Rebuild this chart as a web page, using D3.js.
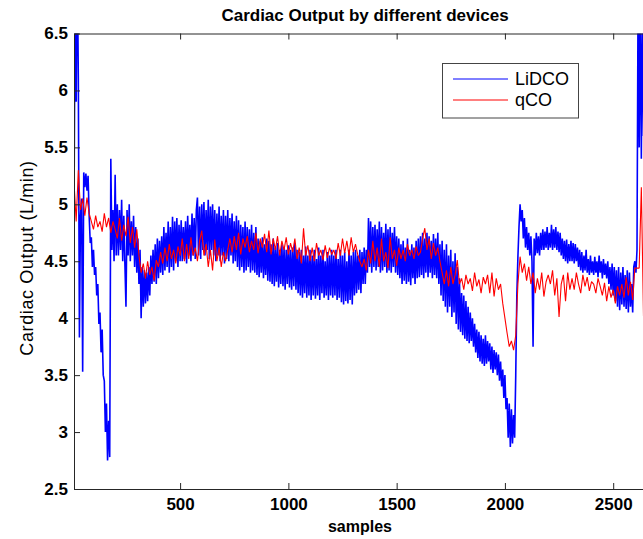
<!DOCTYPE html>
<html><head><meta charset="utf-8">
<script src="https://cdn.jsdelivr.net/npm/d3@7"></script>
<style>
html,body{margin:0;padding:0;background:#fff;overflow:hidden;}
text{font-family:"Liberation Sans",Arial,sans-serif;}
</style></head>
<body><svg id="chart" width="643" height="539"></svg>
<script>
// ---- data ----
const title = "Cardiac Output by different devices";
const xLabel = "samples";
const yLabel = "Cardiac Output (L/min)";
const seriesNames = ["LiDCO", "qCO"];
const xTicks = [500, 1000, 1500, 2000, 2500];
const yTicks = [2.5, 3, 3.5, 4, 4.5, 5, 5.5, 6, 6.5];
const lidcoStart = 10, lidcoStep = 5;
const qcoStart = 10, qcoStep = 10;
// LiDCO values, one every 5 samples from 10 to 2640
const lidco = [
4.9,6.8,5.9,7.2,6.1,3.83,4.9,5.05,3.53,5.28,5.15,5.27,5.12,5.25,4.9,4.66,4.71,4.45,4.6,4.38,
4.45,4.2,4.3,3.95,4.05,3.7,3.9,3.5,3.45,3.0,3.25,2.75,3.1,2.78,5.4,4.6,4.95,4.5,5.26,4.55,
5.0,4.55,4.95,4.6,5.04,4.5,4.9,4.48,4.1,4.95,4.55,5.0,4.5,4.85,4.55,4.9,4.45,4.8,4.4,4.7,
4.3,4.6,4.0,4.45,4.1,4.42,4.13,4.4,4.15,4.45,4.2,4.55,4.3,4.6,4.32,4.65,4.3,4.7,4.35,4.68,
4.4,4.72,4.38,4.8,4.42,4.75,4.45,4.85,4.4,4.8,4.45,4.89,4.42,4.85,4.5,4.88,4.45,4.82,4.5,4.86,
4.5,4.8,4.52,4.85,4.48,4.9,4.55,4.82,4.5,4.92,4.55,4.88,4.52,4.95,5.06,4.55,4.98,4.52,5.0,4.6,
5.02,4.55,4.95,4.6,5.04,4.52,4.98,4.6,5.0,4.55,4.95,4.5,4.92,4.55,4.98,4.5,4.9,4.55,4.95,4.48,
4.9,4.52,4.95,4.5,4.88,4.55,4.92,4.48,4.85,4.5,4.9,4.45,4.86,4.42,4.82,4.45,4.8,4.4,4.85,4.42,
4.8,4.45,4.78,4.4,4.82,4.42,4.75,4.4,4.8,4.38,4.7,4.36,4.68,4.4,4.71,4.35,4.65,4.38,4.7,4.33,
4.68,4.32,4.65,4.3,4.7,4.28,4.62,4.32,4.66,4.27,4.6,4.3,4.65,4.28,4.62,4.25,4.6,4.3,4.64,4.27,
4.6,4.25,4.62,4.28,4.66,4.25,4.6,4.22,4.58,4.2,4.6,4.18,4.55,4.22,4.63,4.18,4.55,4.2,4.6,4.16,
4.55,4.2,4.6,4.17,4.52,4.2,4.62,4.16,4.55,4.22,4.6,4.18,4.5,4.2,4.58,4.16,4.55,4.2,4.6,4.18,
4.55,4.2,4.6,4.16,4.52,4.18,4.6,4.14,4.55,4.12,4.58,4.15,4.5,4.13,4.6,4.16,4.55,4.12,4.58,4.2,
4.6,4.22,4.55,4.25,4.6,4.22,4.58,4.3,4.62,4.3,4.6,4.4,4.88,4.45,4.85,4.4,4.8,4.45,4.82,4.42,
4.78,4.45,4.85,4.4,4.8,4.42,4.75,4.45,4.83,4.4,4.78,4.42,4.8,4.4,4.75,4.45,4.8,4.4,4.72,4.38,
4.7,4.35,4.65,4.3,4.68,4.33,4.62,4.3,4.7,4.32,4.6,4.29,4.65,4.35,4.62,4.3,4.68,4.35,4.7,4.36,
4.72,4.38,4.75,4.35,4.7,4.4,4.75,4.36,4.72,4.4,4.68,4.35,4.74,4.38,4.7,4.35,4.75,4.3,4.65,4.2,
4.68,4.15,4.6,4.1,4.65,4.05,4.55,4.1,4.6,4.01,4.5,4.05,4.57,3.95,4.45,3.9,4.35,3.88,4.22,3.85,
4.2,3.82,4.15,3.8,4.1,3.78,4.05,3.8,4.0,3.75,3.95,3.7,3.9,3.65,3.88,3.62,3.85,3.6,3.82,3.58,
3.85,3.6,3.8,3.62,3.78,3.55,3.75,3.52,3.72,3.55,3.7,3.5,3.68,3.45,3.62,3.4,3.55,3.3,3.5,3.2,
3.3,2.95,3.25,2.87,3.2,2.9,3.15,2.95,3.5,4.2,4.54,4.8,5.0,4.85,4.95,4.7,4.88,4.62,4.8,4.6,
4.75,4.55,4.72,4.5,3.75,4.7,4.55,4.75,4.57,4.72,4.55,4.75,4.6,4.78,4.6,4.76,4.62,4.8,4.6,4.75,
4.62,4.82,4.6,4.78,4.62,4.8,4.6,4.76,4.58,4.75,4.55,4.7,4.52,4.68,4.5,4.69,4.48,4.65,4.5,4.68,
4.5,4.66,4.48,4.65,4.5,4.62,4.45,4.6,4.42,4.58,4.4,4.55,4.42,4.6,4.4,4.52,4.38,4.55,4.4,4.5,
4.38,4.54,4.4,4.5,4.36,4.55,4.4,4.5,4.35,4.52,4.38,4.48,4.35,4.5,4.3,4.45,4.25,4.48,4.2,4.45,
4.15,4.42,4.1,4.45,4.07,4.4,4.12,4.45,4.1,4.38,4.08,4.42,4.05,4.4,4.1,4.3,4.05,4.45,4.5,4.4,
4.6,6.9,5.5,6.8,5.4,6.7,5.6
];
// qCO values, one every 10 samples from 10 to 2640
const qco = [
5.2,4.85,5.3,4.95,5.05,4.9,5.06,4.92,4.85,4.78,
4.9,4.8,4.85,4.76,4.92,4.8,4.88,4.75,4.85,4.78,
4.7,4.88,4.68,4.82,4.72,4.89,4.66,4.8,4.62,4.78,
4.55,4.4,4.48,4.35,4.5,4.38,4.45,4.33,4.51,4.45,
4.58,4.48,4.62,4.5,4.65,4.52,4.6,4.48,4.63,4.55,
4.7,4.5,4.65,4.52,4.71,4.55,4.62,4.5,4.68,4.77,
4.55,4.65,4.45,4.6,4.42,4.69,4.5,4.62,4.45,4.58,
4.5,4.6,4.7,4.58,4.72,4.6,4.75,4.56,4.7,4.62,
4.72,4.58,4.68,4.6,4.75,4.57,4.7,4.62,4.74,4.58,
4.77,4.56,4.7,4.6,4.72,4.55,4.68,4.6,4.71,4.56,
4.66,4.58,4.7,4.52,4.62,4.48,4.79,4.55,4.64,4.5,
4.62,4.5,4.66,4.55,4.6,4.51,4.64,4.53,4.62,4.56,
4.6,4.52,4.66,4.55,4.7,4.57,4.68,4.55,4.71,4.58,
4.65,4.56,4.5,4.45,4.52,4.42,4.6,4.48,4.68,4.5,
4.62,4.45,4.7,4.5,4.58,4.44,4.71,4.52,4.6,4.46,
4.62,4.52,4.6,4.5,4.65,4.55,4.6,4.52,4.63,4.55,
4.58,4.7,4.79,4.6,4.7,4.52,4.66,4.55,4.62,4.5,
4.4,4.3,4.42,4.28,4.45,4.3,4.38,4.51,4.3,4.35,
4.25,4.38,4.3,4.35,4.24,4.4,4.28,4.34,4.22,4.36,
4.3,4.38,4.22,4.4,4.19,4.35,4.25,4.3,4.13,4.0,
3.87,3.75,3.8,3.72,3.85,4.3,4.54,4.4,4.48,4.33,
4.45,4.3,4.4,4.22,4.35,4.25,4.4,4.19,4.32,4.38,
4.3,4.42,4.2,4.35,4.01,4.3,4.38,4.15,4.4,4.25,
4.35,4.25,4.4,4.3,4.22,4.38,4.28,4.36,4.24,4.32,
4.3,4.22,4.35,4.28,4.2,4.31,4.15,4.28,4.18,4.25,
4.13,4.28,4.2,4.3,4.18,4.36,4.2,4.32,4.16,4.44,
4.44,4.44,5.15,4.02
];
const colors = ["#0000ff", "#ff0000"];

// ---- chart ----
const svg = d3.select("#chart");
const L = 74, T = 33.5, R = 650, B = 489;
const x = d3.scaleLinear().domain([10, 2670]).range([L, R]);
const y = d3.scaleLinear().domain([2.5, 6.5]).range([B, T]);

svg.append("defs").append("clipPath").attr("id", "clip")
  .append("rect").attr("x", L).attr("y", T).attr("width", R - L).attr("height", B - T);

const lidcoPts = lidco.map((v, i) => [lidcoStart + i * lidcoStep, v]);
const qcoPts = qco.map((v, i) => [qcoStart + i * qcoStep, v]);
const line = d3.line().x(d => x(d[0])).y(d => y(d[1]));

const g = svg.append("g").attr("clip-path", "url(#clip)");
g.append("path").datum(lidcoPts).attr("d", line)
  .attr("fill", "none").attr("stroke", colors[0]).attr("stroke-width", 1.6)
  .attr("stroke-linejoin", "bevel");
g.append("path").datum(qcoPts).attr("d", line)
  .attr("fill", "none").attr("stroke", colors[1]).attr("stroke-width", 1.1)
  .attr("stroke-linejoin", "bevel");

const axisColor = "#262626";
function styleAxis(sel) {
  sel.selectAll("path.domain").attr("stroke", axisColor);
  sel.selectAll("line").attr("stroke", axisColor);
  sel.selectAll("text").attr("fill", "#000").style("font-size", "17px").style("font-weight", "bold");
}
const xb = svg.append("g").attr("transform", `translate(0,${B})`)
  .call(d3.axisBottom(x).tickValues(xTicks).tickSizeInner(-6).tickSizeOuter(0).tickPadding(9).tickFormat(d3.format("d")));
styleAxis(xb);
const xt = svg.append("g").attr("transform", `translate(0,${T})`)
  .call(d3.axisTop(x).tickValues(xTicks).tickSizeInner(-6).tickSizeOuter(0).tickFormat(""));
styleAxis(xt);
const yl = svg.append("g").attr("transform", `translate(${L},0)`)
  .call(d3.axisLeft(y).tickValues(yTicks).tickSizeInner(-6).tickSizeOuter(0).tickPadding(6).tickFormat(d => String(d)));
styleAxis(yl);
const yr = svg.append("g").attr("transform", `translate(${R},0)`)
  .call(d3.axisRight(y).tickValues(yTicks).tickSizeInner(-6).tickSizeOuter(0).tickFormat(""));
styleAxis(yr);

// title & labels
svg.append("text").attr("x", 365).attr("y", 21).attr("text-anchor", "middle")
  .style("font-size", "17px").style("font-weight", "bold").text(title);
svg.append("text").attr("x", 360).attr("y", 532).attr("text-anchor", "middle")
  .style("font-size", "16px").style("font-weight", "bold").text(xLabel);
svg.append("text").attr("transform", "translate(33,258) rotate(-90)").attr("text-anchor", "middle")
  .style("font-size", "18px").style("letter-spacing", "0.6px").text(yLabel);

// legend
const lg = svg.append("g");
lg.append("rect").attr("x", 442.5).attr("y", 63.5).attr("width", 136).attr("height", 54.5)
  .attr("fill", "#fff").attr("stroke", "#444").attr("stroke-width", 1);
seriesNames.forEach((n, i) => {
  const yy = 79 + i * 21;
  lg.append("line").attr("x1", 453).attr("x2", 508).attr("y1", yy).attr("y2", yy)
    .attr("stroke", colors[i]).attr("stroke-width", 1);
  lg.append("text").attr("x", 515).attr("y", yy + 6).style("font-size", "18px").attr("fill", "#000").text(n);
});
</script></body></html>
